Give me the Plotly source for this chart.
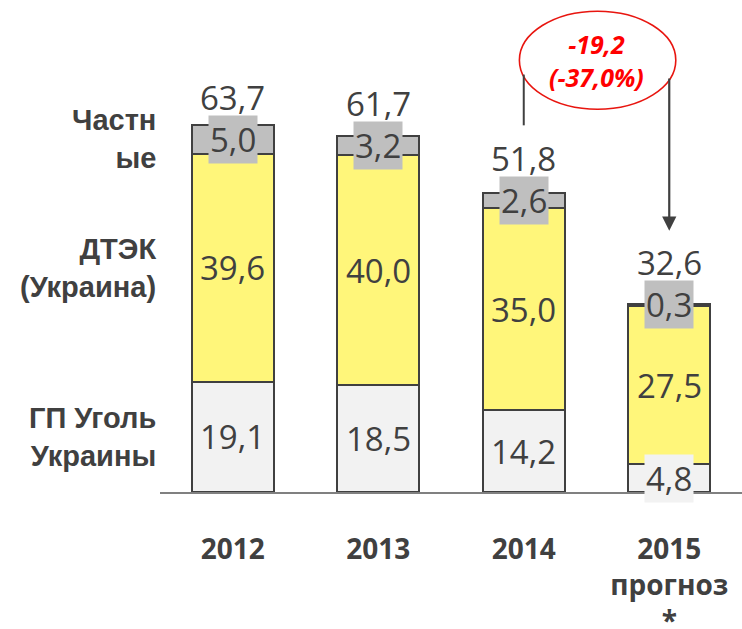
import plotly.graph_objects as go

categories = ["2012", "2013", "2014", "2015<br>прогноз<br>*"]
series_names = ["ГП Уголь<br>Украины", "ДТЭК<br>(Украина)", "Частн<br>ые"]
gp_ugol = [19.1, 18.5, 14.2, 4.8]
dtek = [39.6, 40.0, 35.0, 27.5]
private = [5.0, 3.2, 2.6, 0.3]
totals = [63.7, 61.7, 51.8, 32.6]
change_text = "-19,2<br>(-37,0%)"

def fmt(v):
    return f"{v:.1f}".replace(".", ",")

x = list(range(len(categories)))
DARK = "#404040"
fills = ["#F2F2F2", "#FFF67A", "#BFBFBF"]
series = [gp_ugol, dtek, private]

fig = go.Figure()
for name, vals, col in zip(series_names, series, fills):
    fig.add_trace(go.Bar(
        x=x, y=vals, name=name, marker=dict(color=col, line=dict(color=DARK, width=2)),
        width=0.565, hoverinfo="skip", showlegend=False,
    ))

annotations = []
VF = dict(family="Open Sans", size=33, color=DARK)
for i in x:
    base = 0
    for k, vals in enumerate(series):
        v = vals[i]
        mid = base + v / 2
        ann = dict(x=i, y=mid, xref="x", yref="y", text=fmt(v), showarrow=False,
                   font=VF, xanchor="center", yanchor="middle")
        if k == 2:
            ann.update(bgcolor="#BFBFBF", borderpad=1)
        if k == 0 and v < 8:
            ann.update(bgcolor="#F2F2F2", borderpad=1)
        annotations.append(ann)
        base += v
    top_mid = totals[i] - private[i] / 2
    annotations.append(dict(x=i, y=top_mid, xref="x", yref="y", text=fmt(totals[i]),
                            showarrow=False, font=VF, xanchor="center", yanchor="middle",
                            yshift=42))

# row labels at first bar's segment midpoints
base = 0
for name, vals in zip(series_names, series):
    mid = base + vals[0] / 2
    annotations.append(dict(x=0, y=mid, xref="paper", yref="y", text=f"<b>{name}</b>",
                            showarrow=False, xanchor="right", yanchor="middle", align="right",
                            xshift=-2,
                            font=dict(family="Liberation Sans", size=29, color=DARK)))
    base += vals[0]

# change annotation
annotations.append(dict(x=2.5, y=74.9, xref="x", yref="y", text=f"<b><i>{change_text}</i></b>",
                        showarrow=False, xanchor="center", yanchor="middle",
                        font=dict(family="Open Sans", size=25, color="#FF0000")))
annotations.append(dict(x=3, y=45.3, xref="x", yref="y", ax=3, ay=72.0, axref="x", ayref="y",
                        text="", showarrow=True, arrowhead=2, arrowsize=1.3, arrowwidth=2.2,
                        arrowcolor=DARK))

shapes = [
    dict(type="circle", xref="x", yref="y", x0=1.97, x1=3.045, y0=66.4, y1=83.4,
         line=dict(color="#E8150F", width=1.6), fillcolor="rgba(0,0,0,0)"),
    dict(type="line", xref="x", yref="y", x0=2, x1=2, y0=72.4, y1=63.6,
         line=dict(color=DARK, width=2)),
]

fig.update_layout(
    barmode="stack", bargap=0.435,
    width=742, height=629,
    margin=dict(l=160, r=0, t=0, b=137, autoexpand=False),
    paper_bgcolor="white", plot_bgcolor="white",
    annotations=annotations, shapes=shapes,
    xaxis=dict(range=[-0.5, 3.5], tickvals=x, ticktext=[f"<b>{c}</b>" for c in categories],
               showline=True, linecolor="#808080", linewidth=2, ticks="",
               showgrid=False, zeroline=False, ticklabelstandoff=31, automargin=False,
               tickfont=dict(family="Open Sans", size=28, color=DARK)),
    yaxis=dict(range=[0, 85.34], visible=False, showgrid=False, zeroline=False,
               automargin=False),
)

fig.write_html("out.html", config={"displayModeBar": False},
               post_script="document.body.style.margin='0px';")
